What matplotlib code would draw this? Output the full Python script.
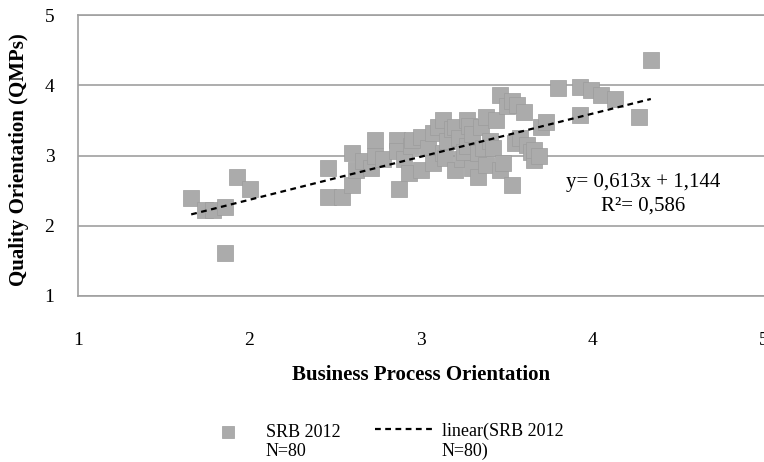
import matplotlib.pyplot as plt

# Business process orientation (x) vs quality orientation (y), SRB 2012, N=80
bpo = [1.66, 1.74, 1.79, 1.86, 1.86, 1.93, 2.00,
       2.46, 2.46, 2.54, 2.60, 2.60, 2.62, 2.66, 2.71, 2.73, 2.73, 2.78,
       2.86, 2.86, 2.87, 2.90, 2.93, 2.94, 2.95, 3.00, 3.00, 3.04, 3.07, 3.07,
       3.10, 3.13, 3.13, 3.14, 3.15, 3.18, 3.20, 3.20, 3.22, 3.24, 3.25, 3.27,
       3.27, 3.28, 3.30, 3.30, 3.33, 3.33, 3.35, 3.36, 3.38, 3.38, 3.40, 3.42,
       3.44, 3.46, 3.46, 3.48, 3.50, 3.53, 3.53, 3.55, 3.56, 3.58, 3.60, 3.62,
       3.64, 3.66, 3.66, 3.69, 3.70, 3.73, 3.80, 3.93, 3.93, 3.99, 4.05, 4.13,
       4.27, 4.34]
qmp = [2.39, 2.22, 2.22, 2.27, 1.61, 2.70, 2.52,
       2.82, 2.41, 2.41, 2.58, 3.04, 2.80, 2.92, 2.82, 3.22, 3.00, 2.95,
       3.22, 3.06, 2.53, 2.95, 2.75, 3.13, 3.22, 3.27, 2.80, 3.10, 3.32, 2.90,
       3.40, 3.50, 3.03, 2.96, 3.20, 3.38, 3.41, 2.79, 3.25, 2.95, 3.05, 3.50,
       3.13, 3.42, 3.30, 2.82, 3.03, 2.70, 3.40, 3.10, 3.55, 2.86, 3.20, 3.10,
       3.50, 3.86, 2.80, 2.90, 3.70, 3.77, 2.58, 3.18, 3.72, 3.25, 3.62, 3.15,
       3.05, 2.94, 3.08, 3.00, 3.40, 3.48, 3.96, 3.98, 3.58, 3.93, 3.86, 3.81,
       3.55, 4.36]

# linear trend as reported
slope = 0.613
intercept = 1.144
r2 = 0.586

grey = '#a0a0a0'
serif = 'Liberation Serif'

fig = plt.figure(figsize=(7.64, 4.62), dpi=100)
ax = fig.add_axes([78/764, 1-296/462, 686/764, 281/462])

pts = ax.scatter(bpo, qmp, marker='s', s=132, color='#ababab',
                 edgecolors='#9c9c9c', linewidths=0.5, zorder=3)
x0, x1 = min(bpo), max(bpo)
trend, = ax.plot([x0, x1], [slope*x0 + intercept, slope*x1 + intercept],
                 color='black', lw=1.6, linestyle=(0, (2.6, 2.0)), zorder=4)

ax.set_xlim(1, 5)
ax.set_ylim(1, 5)
ax.set_xticks([1, 2, 3, 4, 5])
ax.set_yticks([1, 2, 3, 4, 5])
ax.tick_params(length=0, labelsize=14)
ax.tick_params(axis='y', pad=17)
ax.tick_params(axis='x', pad=26)
for lab in ax.get_xticklabels() + ax.get_yticklabels():
    lab.set_family(serif)
ax.grid(axis='y', color=grey, lw=1.2)
for side in ['top', 'bottom', 'left']:
    ax.spines[side].set_color(grey)
    ax.spines[side].set_linewidth(1.2)
ax.spines['right'].set_visible(False)

eq = 'y= {:.3f}x + {:.3f}\nR²= {:.3f}'.format(slope, intercept, r2).replace('.', ',')
ax.text(643/764, 1-194/462, eq, transform=fig.transFigure,
        ha='center', va='center', fontsize=15, family=serif, linespacing=1.35)

fig.text(19/764, 1-160/462, 'Quality Orientation (QMPs)', rotation=90, ha='center',
         va='center', fontsize=15, fontweight='bold', family=serif)
fig.text(421/764, 1-375/462, 'Business Process Orientation', ha='center',
         va='center', fontsize=15, fontweight='bold', family=serif)

leg = fig.legend([pts, trend], ['SRB 2012\nN=80', 'linear(SRB 2012\nN=80)'],
                 loc='upper left', bbox_to_anchor=(199/764, 1-423/462), ncol=2,
                 frameon=False, markerscale=0.72, handlelength=3.2,
                 columnspacing=1.9, handletextpad=0.5, borderpad=0,
                 borderaxespad=0, labelspacing=0,
                 prop={'family': serif, 'size': 13})
for hp in leg._legend_handle_box.get_children():
    for row in hp.get_children():
        row.align = 'top'

fig.savefig('out.png', dpi=100)
